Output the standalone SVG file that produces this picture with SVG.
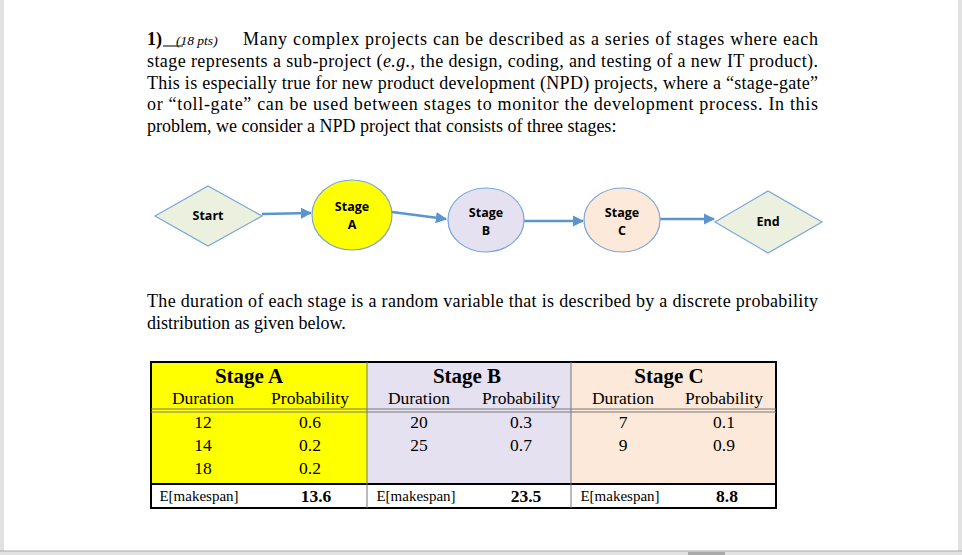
<svg xmlns="http://www.w3.org/2000/svg" width="962" height="555" viewBox="0 0 962 555">
<style>
.t{font-family:"Liberation Serif",serif;font-size:18px;fill:#000}
.n{font-family:"Open Sans","DejaVu Sans",sans-serif;font-size:12.5px;font-weight:bold;fill:#000;text-anchor:middle}
.c{font-family:"Liberation Serif",serif;font-size:17.5px;fill:#000;text-anchor:middle}
.m{font-size:15px}
.h{font-family:"Liberation Serif",serif;font-size:21px;font-weight:bold;text-anchor:middle}
.e{stroke:#7aa6d6;stroke-width:1.2}
.a{stroke:#5b95d0;stroke-width:2.5;fill:none;marker-end:url(#ar)}
</style>
<defs><marker id="ar" viewBox="0 0 10 10" refX="9" refY="5" markerWidth="4.5" markerHeight="4.5" orient="auto"><path d="M0,0L10,5L0,10z" fill="#5b95d0"/></marker></defs>
<rect width="962" height="555" fill="#fff"/>
<rect x="0" y="0" width="4" height="555" fill="#e2e2e2"/>
<rect x="958" y="0" width="4" height="555" fill="#e2e2e2"/>
<rect x="0" y="551" width="962" height="4" fill="#e2e2e2"/>
<line x1="0" y1="551" x2="962" y2="551" stroke="#aaa"/>
<rect x="688" y="552" width="37" height="3" fill="#aaa"/>
<text class="t" x="147" y="45"><tspan font-weight="bold">1)</tspan></text>
<line x1="163" y1="46" x2="183" y2="46" stroke="#000"/>
<text class="t" x="176" y="45" style="font-size:13.5px;font-style:italic">(18 pts)</text>
<text class="t" x="243" y="45" textLength="575" lengthAdjust="spacing">Many complex projects can be described as a series of stages where each</text>
<text class="t" x="147" y="67" textLength="671" lengthAdjust="spacing">stage represents a sub-project (<tspan font-style="italic">e.g.</tspan>, the design, coding, and testing of a new IT product).</text>
<text class="t" x="147" y="89" textLength="671" lengthAdjust="spacing">This is especially true for new product development (NPD) projects, where a “stage-gate”</text>
<text class="t" x="147" y="110" textLength="671" lengthAdjust="spacing">or “toll-gate” can be used between stages to monitor the development process. In this</text>
<text class="t" x="147" y="132">problem, we consider a NPD project that consists of three stages:</text>
<g id="connectors">
<line class="a" x1="262" y1="214" x2="311" y2="213"/>
<line class="a" x1="392" y1="212" x2="446" y2="219"/>
<line class="a" x1="524" y1="221" x2="583" y2="221"/>
<line class="a" x1="660" y1="219" x2="714" y2="219"/>
</g>
<g id="start"><polygon class="e" points="155,216 208,186 262,216 208,246" fill="#ebf1de"/><text class="n" x="208" y="220">Start</text></g>
<g id="stageA"><ellipse class="e" cx="352" cy="215" rx="40" ry="35" fill="#ffff00"/><text class="n" x="352" y="211">Stage</text><text class="n" x="352" y="229">A</text></g>
<g id="stageB"><ellipse class="e" cx="486" cy="220" rx="38" ry="32" fill="#e6e1f0"/><text class="n" x="486" y="217">Stage</text><text class="n" x="486" y="235">B</text></g>
<g id="stageC"><ellipse class="e" cx="622" cy="220" rx="38" ry="32" fill="#fde9d9"/><text class="n" x="622" y="217">Stage</text><text class="n" x="622" y="235">C</text></g>
<g id="end"><polygon class="e" points="715,222 768,191 822,222 768,253" fill="#ebf1de"/><text class="n" x="768" y="226">End</text></g>
<text class="t" x="147" y="307" textLength="671" lengthAdjust="spacing">The duration of each stage is a random variable that is described by a discrete probability</text>
<text class="t" x="147" y="329">distribution as given below.</text>
<g id="table">
<rect x="151" y="362" width="216" height="122" fill="#ffff00"/>
<rect x="367" y="362" width="204" height="122" fill="#e6e1f0"/>
<rect x="571" y="362" width="205" height="122" fill="#fde9d9"/>
<rect x="151" y="484" width="625" height="24" fill="#fff"/>
<rect x="151" y="362" width="625" height="146" fill="none" stroke="#000" stroke-width="2"/>
<line x1="151" y1="409" x2="776" y2="409" stroke="#777"/>
<line x1="151" y1="412" x2="776" y2="412" stroke="#777"/>
<line x1="151" y1="484" x2="776" y2="484" stroke="#000" stroke-width="2"/>
<line x1="367" y1="362" x2="367" y2="508" stroke="#777"/>
<line x1="571" y1="362" x2="571" y2="508" stroke="#777"/>
<text class="h" x="249" y="383">Stage A</text><text class="h" x="467" y="383">Stage B</text><text class="h" x="669" y="383">Stage C</text>
<text class="c" x="203" y="404">Duration</text><text class="c" x="310" y="404">Probability</text>
<text class="c" x="419" y="404">Duration</text><text class="c" x="521" y="404">Probability</text>
<text class="c" x="623" y="404">Duration</text><text class="c" x="724" y="404">Probability</text>
<text class="c" x="203" y="428">12</text><text class="c" x="310" y="428">0.6</text>
<text class="c" x="203" y="451">14</text><text class="c" x="310" y="451">0.2</text>
<text class="c" x="203" y="474">18</text><text class="c" x="310" y="474">0.2</text>
<text class="c" x="419" y="428">20</text><text class="c" x="521" y="428">0.3</text>
<text class="c" x="419" y="451">25</text><text class="c" x="521" y="451">0.7</text>
<text class="c" x="623" y="428">7</text><text class="c" x="724" y="428">0.1</text>
<text class="c" x="623" y="451">9</text><text class="c" x="724" y="451">0.9</text>
<text class="c m" x="199" y="501">E[makespan]</text><text class="c" x="316" y="502" font-weight="bold">13.6</text>
<text class="c m" x="416" y="501">E[makespan]</text><text class="c" x="526" y="502" font-weight="bold">23.5</text>
<text class="c m" x="620" y="501">E[makespan]</text><text class="c" x="727" y="502" font-weight="bold">8.8</text>
</g>
</svg>
